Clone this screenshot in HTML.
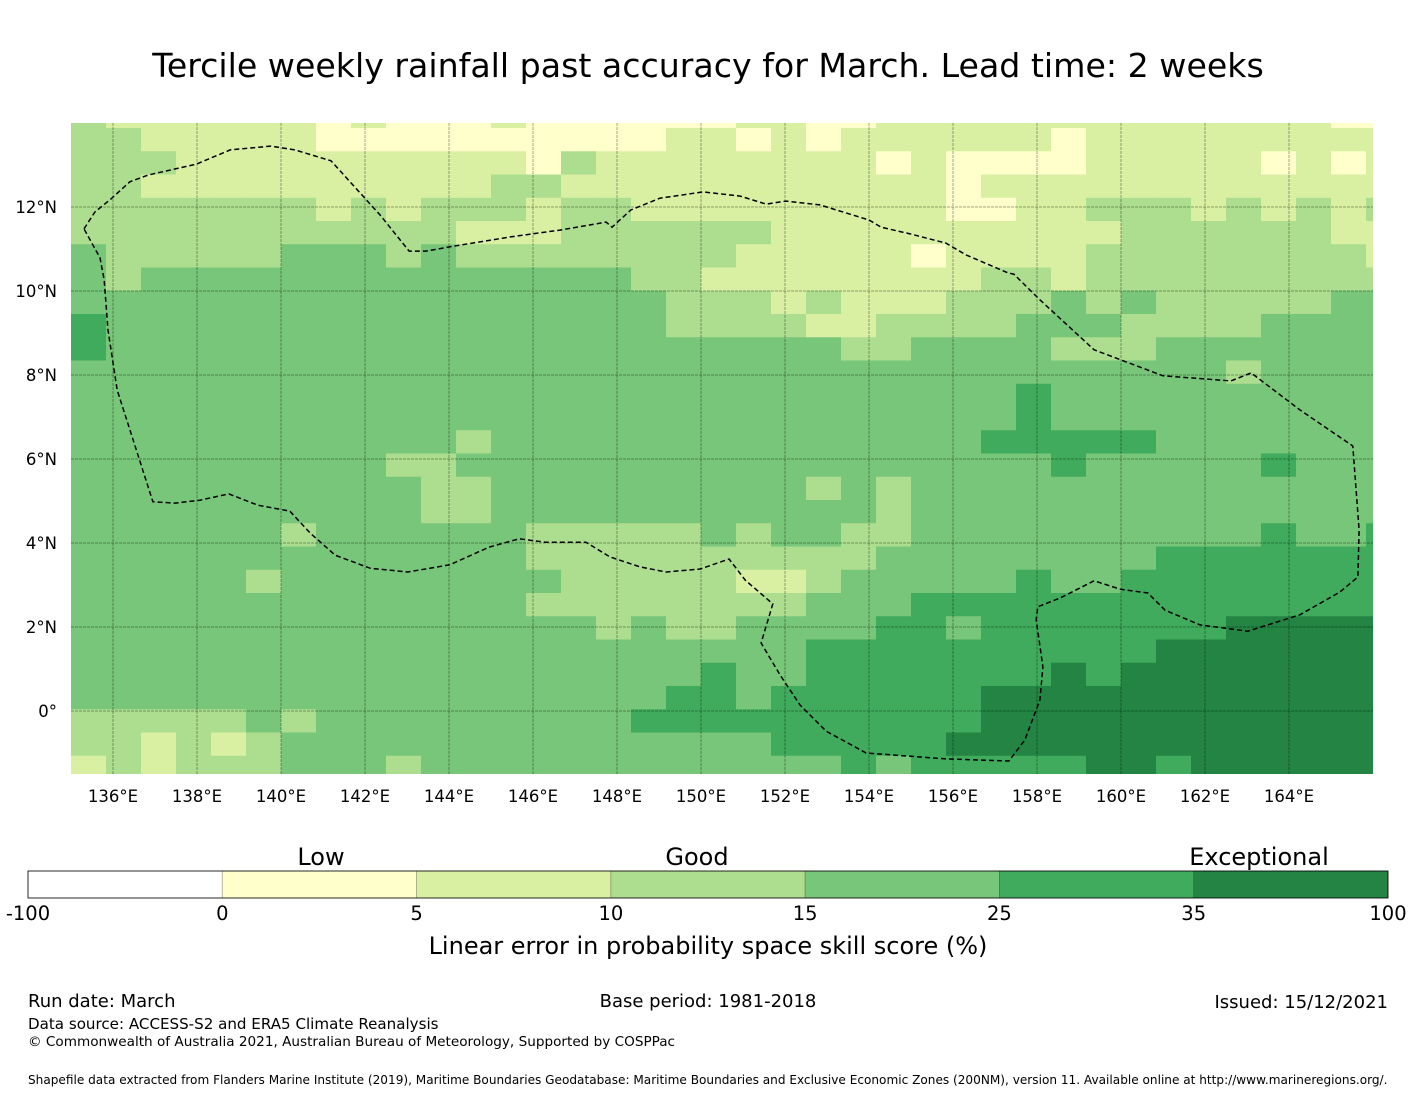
<!DOCTYPE html>
<html><head><meta charset="utf-8"><style>
html,body{margin:0;padding:0;background:#fff;}
body{width:1416px;height:1095px;overflow:hidden;font-family:"Liberation Sans","DejaVu Sans",sans-serif;}
svg text{font-family:"DejaVu Sans","Liberation Sans",sans-serif;}
</style></head><body>
<svg id="chart" width="1416" height="1095" viewBox="0 0 1416 1095" xmlns="http://www.w3.org/2000/svg">
<defs><clipPath id="mapclip"><rect x="71" y="123" width="1302" height="651"/></clipPath></defs>
<text x="708" y="77" font-size="33.2" text-anchor="middle">Tercile weekly rainfall past accuracy for March. Lead time: 2 weeks</text>
<g id="cells" clip-path="url(#mapclip)"></g>
<g id="grid" clip-path="url(#mapclip)"></g>
<polyline id="eez" fill="none" stroke="#000" stroke-width="1.5" stroke-dasharray="5,3" clip-path="url(#mapclip)"/>
<g id="xticks"></g>
<g id="yticks"></g>
<g id="legend"></g>
<text x="321" y="865" font-size="24" text-anchor="middle">Low</text>
<text x="697" y="865" font-size="24" text-anchor="middle">Good</text>
<text x="1259" y="865" font-size="24" text-anchor="middle">Exceptional</text>
<text x="708" y="954" font-size="24" text-anchor="middle">Linear error in probability space skill score (%)</text>
<text x="28" y="1007" font-size="18">Run date: March</text>
<text x="708" y="1007" font-size="18" text-anchor="middle">Base period: 1981-2018</text>
<text x="1388" y="1008" font-size="18" text-anchor="end">Issued: 15/12/2021</text>
<text x="28" y="1029" font-size="15.1">Data source: ACCESS-S2 and ERA5 Climate Reanalysis</text>
<text x="28" y="1046" font-size="13.6">© Commonwealth of Australia 2021, Australian Bureau of Meteorology, Supported by COSPPac</text>
<text x="28" y="1084" font-size="12.1">Shapefile data extracted from Flanders Marine Institute (2019), Maritime Boundaries Geodatabase: Maritime Boundaries and Exclusive Economic Zones (200NM), version 11. Available online at http://www.marineregions.org/.</text>
</svg>
<script>
// grid levels: 1=0-5, 2=5-10, 3=10-15, 4=15-25, 5=25-35, 6=35-100 (rows north->south)
const rows = [
"32222221211121111112211222222222222211",
"33222221111111111221212222221222222222",
"33322222222221322222222121111222221212",
"33222222222233222222222221222222222222",
"33333332323332332222222221122333232323",
"33333333333222333333222222222233333322",
"43333344434333333332222212222333333332",
"43444444444444443322222222332333333333",
"44444444444444444333232223334343333344",
"54444444444444444333322333344433334444",
"54444444444444444444443344443334444444",
"44444444444444444444444444444444434444",
"44444444444444444444444444454444444444",
"44444444444444444444444444454444444444",
"44444444444344444444444444555554444444",
"44444444433444444444444444445444445444",
"44444444443344444444434344444444444444",
"44444444443344444444444344444444444444",
"44444434444443333343443344444444445445",
"44444444444443333333333444444445555555",
"44444344444444333332234444454455555555",
"44444444444443333333344455555555555555",
"44444444444444434334444554555555566666",
"44444444444444444444455555555556666666",
"44444444444444444454455555556566666666",
"44444444444444444554555555666666666666",
"33333434444444445555555555666666666666",
"33232344444444444444555556666666666666",
"23233344434444444444445455555665666666"
];
const levelColors = ["#ffffff","#ffffcc","#d9f0a3","#addd8e","#78c679","#41ab5d","#238443"];
const lonTicks = [136,138,140,142,144,146,148,150,152,154,156,158,160,162,164];
const latTicks = [12,10,8,6,4,2,0];
const legendTicks = ["-100","0","5","10","15","25","35","100"];
const eezLonLat = [[135.31,11.48],[135.57,11.88],[135.95,12.19],[136.40,12.60],[136.83,12.76],[137.98,13.02],[138.79,13.36],[139.76,13.45],[140.33,13.36],[141.19,13.10],[142.36,11.81],[143.05,10.95],[143.45,10.95],[144.12,11.07],[145.48,11.29],[146.64,11.45],[147.74,11.64],[147.88,11.52],[148.33,11.93],[149.02,12.21],[150.05,12.36],[150.93,12.26],[151.55,12.07],[152.02,12.14],[152.83,12.05],[154.0,11.69],[154.29,11.52],[154.98,11.36],[155.83,11.14],[156.31,10.86],[157.31,10.43],[157.45,10.40],[158.07,9.79],[159.36,8.60],[161.0,7.98],[162.62,7.86],[163.10,8.05],[164.26,7.17],[165.52,6.31],[165.67,4.31],[165.64,3.19],[165.21,2.83],[164.26,2.29],[163.02,1.90],[161.88,2.05],[161.05,2.40],[160.64,2.81],[159.98,2.90],[159.36,3.10],[158.55,2.69],[158.02,2.48],[157.98,2.17],[158.14,1.05],[158.07,0.26],[157.71,-0.69],[157.33,-1.19],[155.83,-1.14],[153.93,-1.0],[152.98,-0.48],[152.36,0.14],[151.88,0.86],[151.43,1.62],[151.71,2.55],[151.05,3.12],[150.67,3.62],[149.98,3.38],[149.17,3.31],[148.55,3.43],[147.83,3.67],[147.26,4.02],[146.29,4.02],[145.67,4.10],[144.95,3.90],[144.02,3.48],[143.02,3.31],[142.12,3.40],[141.29,3.71],[140.69,4.24],[140.21,4.76],[139.45,4.90],[138.76,5.17],[138.07,5.02],[137.48,4.95],[136.95,4.98],[136.10,7.64],[135.88,9.07],[135.79,10.26],[135.69,10.79],[135.31,11.48]];

const NS = "http://www.w3.org/2000/svg";
function xOf(lon){ return 113 + (lon - 136) * 42; }
function yOf(lat){ return 711 - lat * 42; }
const cellLon = 35/42, cellLat = 23.25/42, lat0 = (711-128)/42 + cellLat;

const cells = document.getElementById('cells');
rows.forEach((row, r) => {
  for (let c = 0; c < row.length; c++) {
    const v = +row[c];
    const lonL = 135 + c*cellLon, latT = lat0 - r*cellLat;
    const x = xOf(lonL), y = yOf(latT);
    const w = xOf(lonL+cellLon) - x, h = yOf(latT-cellLat) - y;
    const el = document.createElementNS(NS,'rect');
    
    
    el.setAttribute('x', x); el.setAttribute('y', y);
    el.setAttribute('width', w+0.5); el.setAttribute('height', h+0.5);
    el.setAttribute('fill', levelColors[v]);
    cells.appendChild(el);
  }
});

const grid = document.getElementById('grid');
const xt = document.getElementById('xticks');
lonTicks.forEach(lon => {
  const x = xOf(lon);
  const ln = document.createElementNS(NS,'line');
  
  
  ln.setAttribute('x1', x); ln.setAttribute('x2', x); ln.setAttribute('y1', 123); ln.setAttribute('y2', 774);
  ln.setAttribute('stroke', 'rgba(0,0,0,0.35)'); ln.setAttribute('stroke-width', '1'); ln.setAttribute('stroke-dasharray', '3,1');
  grid.appendChild(ln);
  const t = document.createElementNS(NS,'text');
  
  
  t.setAttribute('x', x); t.setAttribute('y', 802); t.setAttribute('font-size', '16.5'); t.setAttribute('text-anchor', 'middle');
  t.textContent = lon + '°E';
  xt.appendChild(t);
});
const yt = document.getElementById('yticks');
latTicks.forEach(lat => {
  const y = yOf(lat);
  const ln = document.createElementNS(NS,'line');
  
  
  ln.setAttribute('x1', 71); ln.setAttribute('x2', 1373); ln.setAttribute('y1', y); ln.setAttribute('y2', y);
  ln.setAttribute('stroke', 'rgba(0,0,0,0.35)'); ln.setAttribute('stroke-width', '1'); ln.setAttribute('stroke-dasharray', '3,1');
  grid.appendChild(ln);
  const t = document.createElementNS(NS,'text');
  
  
  t.setAttribute('x', 57); t.setAttribute('y', y+6); t.setAttribute('font-size', '16.5'); t.setAttribute('text-anchor', 'end');
  t.textContent = lat === 0 ? '0°' : lat + '°N';
  yt.appendChild(t);
});

document.getElementById('eez').setAttribute('points', eezLonLat.map(p => xOf(p[0]).toFixed(1)+','+yOf(p[1]).toFixed(1)).join(' '));

const lg = document.getElementById('legend');
const segW = 1360/7;
for (let i = 0; i < 7; i++) {
  const el = document.createElementNS(NS,'rect');
  
  
  el.setAttribute('x', 28 + i*segW); el.setAttribute('y', 871);
  el.setAttribute('width', segW); el.setAttribute('height', 27);
  el.setAttribute('fill', levelColors[i]);
  el.setAttribute('stroke', 'rgba(0,0,0,0.25)'); el.setAttribute('stroke-width', '0.8');
  lg.appendChild(el);
}
const frame = document.createElementNS(NS,'rect');


frame.setAttribute('x', 28); frame.setAttribute('y', 871); frame.setAttribute('width', 1360); frame.setAttribute('height', 27);
frame.setAttribute('fill', 'none'); frame.setAttribute('stroke', '#000'); frame.setAttribute('stroke-width', '0.8');
lg.appendChild(frame);
legendTicks.forEach((lab, i) => {
  const t = document.createElementNS(NS,'text');
  
  
  t.setAttribute('x', 28 + i*segW); t.setAttribute('y', 920); t.setAttribute('font-size', '19.5'); t.setAttribute('text-anchor', 'middle');
  t.textContent = lab;
  lg.appendChild(t);
});
</script>
</body></html>
